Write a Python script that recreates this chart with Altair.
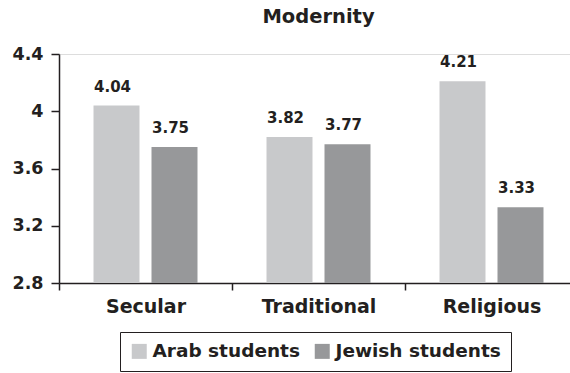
import altair as alt
import pandas as pd

# Mean modernity scores by religiosity group
categories = ["Secular", "Traditional", "Religious"]
groups = ["Arab students", "Jewish students"]
arab_scores = [4.04, 3.82, 4.21]
jewish_scores = [3.75, 3.77, 3.33]
y_ticks = [2.8, 3.2, 3.6, 4.0, 4.4]
bar_colors = ["#c8c9cb", "#97989a"]

rows = []
for cat, a, j in zip(categories, arab_scores, jewish_scores):
    rows.append({"category": cat, "group": groups[0], "score": a})
    rows.append({"category": cat, "group": groups[1], "score": j})
df = pd.DataFrame(rows)

FONT = "DejaVu Sans"
INK = "#231f20"

x_enc = alt.X(
    "category:N",
    sort=categories,
    scale=alt.Scale(range=[0, 519], paddingInner=0, paddingOuter=0),
    axis=alt.Axis(
        title=None,
        labelAngle=0,
        labelFont=FONT,
        labelFontWeight="bold",
        labelFontSize=19,
        labelColor=INK,
        labelPadding=7,
        tickBand="extent",
        tickSize=7,
        tickWidth=1.5,
        tickColor=INK,
        domainColor=INK,
        domainWidth=1.5,
    ),
)
xoff_enc = alt.XOffset(
    "group:N",
    sort=groups,
    scale=alt.Scale(paddingInner=0.207, paddingOuter=0.595),
)
y_scale = alt.Scale(domain=[2.8, 4.4], zero=False, nice=False)

bars = alt.Chart(df).mark_bar().encode(
    x=x_enc,
    xOffset=xoff_enc,
    y=alt.Y(
        "score:Q",
        scale=y_scale,
        axis=alt.Axis(
            title=None,
            values=y_ticks,
            format=".2~f",
            grid=False,
            labelFont=FONT,
            labelFontWeight="bold",
            labelFontSize=17.5,
            labelColor=INK,
            labelPadding=8,
            tickSize=8,
            tickWidth=1.5,
            tickColor=INK,
            domainColor=INK,
            domainWidth=1.5,
        ),
    ),
    y2=alt.datum(2.8),
    color=alt.Color(
        "group:N",
        sort=groups,
        scale=alt.Scale(domain=groups, range=bar_colors),
        legend=alt.Legend(
            title=None,
            orient="none",
            direction="horizontal",
            legendX=61,
            legendY=278,
            symbolType="square",
            symbolSize=225,
            symbolStrokeWidth=0,
            symbolOpacity=1,
            labelFont=FONT,
            labelFontWeight="bold",
            labelFontSize=18.5,
            labelColor=INK,
            labelOffset=4,
            labelLimit=400,
            columnPadding=13,
            padding=10,
            strokeColor=INK,
        ),
    ),
)

labels = alt.Chart(df).mark_text(
    font=FONT,
    fontWeight="bold",
    fontSize=15,
    color=INK,
    baseline="alphabetic",
    dy=-14,
    dx=-4,
).encode(
    x=alt.X("category:N", sort=categories),
    xOffset=alt.XOffset("group:N", sort=groups),
    y=alt.Y("score:Q"),
    text=alt.Text("score:Q", format=".2f"),
)

chart = (
    alt.layer(bars, labels)
    .properties(
        width=511,
        height=229,
        title=alt.TitleParams(
            "Modernity",
            font=FONT,
            fontWeight="bold",
            fontSize=19.5,
            color=INK,
            anchor="middle",
            frame="group",
            offset=18,
            dx=4,
        ),
        autosize=alt.AutoSizeParams(type="none"),
        padding={"left": 59, "top": 54, "right": 0, "bottom": 90},
    )
    .configure_view(stroke=None)
    .configure(background="white")
)

chart.save("out.html", embed_options={"renderer": "svg", "actions": False})
